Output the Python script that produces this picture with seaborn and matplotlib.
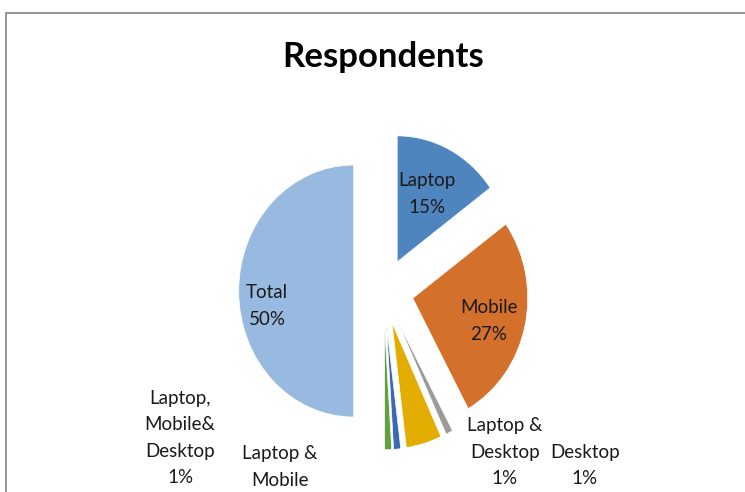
import matplotlib
matplotlib.use("Agg")
import matplotlib.pyplot as plt
import seaborn as sns
from matplotlib.patches import Rectangle

# Survey shares (percent of respondents), in clockwise order from 12 o'clock
categories = ["Laptop", "Mobile", "Laptop &\nDesktop", "Laptop &\nMobile",
              "Desktop", "Laptop,\nMobile&\nDesktop", "Total"]
shares = [15, 27, 1, 5, 1, 1, 50]
slice_colors = ["#4F85BF", "#D2702C", "#9B9B9B", "#E3AC00",
                "#3C68B4", "#62A13E", "#99BAE0"]

# Where each data label sits (data units, pie radius = 1)
label_xy = [(0.377, 0.77), (0.917, -0.238), (1.055, -1.278), (-0.90, -1.50),
            (1.751, -1.383), (-1.770, -1.167), (-1.014, -0.119)]

sns.set_theme(style="white")
plt.rcParams["font.family"] = ["Lato", "DejaVu Sans"]

fig = plt.figure(figsize=(7.45, 4.92), dpi=100)
fig.patch.set_facecolor("white")
ax = fig.add_axes([0, 0, 1, 1])

palette = sns.color_palette(slice_colors)
wedges, _ = ax.pie(
    shares,
    colors=palette,
    startangle=90,
    counterclock=False,
    explode=[0.26] * len(shares),
    radius=1,
    wedgeprops=dict(edgecolor="white", linewidth=0.5),
)

ax.set_aspect("auto")
ax.set_xlim(-3.336, 3.143)
ax.set_ylim(-1.595, 2.31)
ax.axis("off")

for name, val, (x, y) in zip(categories, shares, label_xy):
    ax.text(x, y, f"{name}\n{val}%", ha="center", va="center",
            fontsize=13.5, color="#1a1a1a", linespacing=1.68)

fig.text(383.6 / 745, 1 - 57 / 492, "Respondents", ha="center", va="center",
         fontsize=25, fontweight="bold", color="black")

# Chart-area frame
fig.add_artist(Rectangle((6 / 745, -0.2), 1.5, (1 - 13 / 492) + 0.2,
                         transform=fig.transFigure, fill=False,
                         edgecolor="#8c8c8c", linewidth=1.3))

fig.savefig("out.png", dpi=100, facecolor="white")
